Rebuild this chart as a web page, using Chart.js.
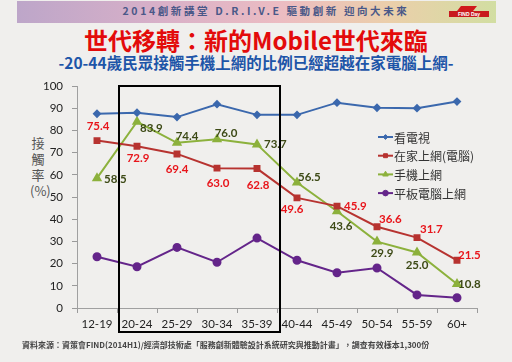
<!DOCTYPE html>
<html><head><meta charset="utf-8">
<script src="https://cdn.jsdelivr.net/npm/chart.js@4/dist/chart.umd.min.js"></script>
<style>
html,body{margin:0;padding:0;background:#f0efed;width:512px;height:362px;overflow:hidden;font-family:"Noto Sans CJK TC","Noto Sans",sans-serif;}
#wrap{position:relative;width:512px;height:362px;}
#banner{position:absolute;left:17px;top:1px;width:479px;height:22px;background:linear-gradient(90deg,#bda6c9 0%,#d8b0c8 30%,#ecbcc2 55%,#ebcfaa 78%,#d2dea2 100%);}
#bannerText{position:absolute;left:0;width:512px;top:4px;text-align:center;font-size:10.5px;font-weight:bold;color:#4a5888;letter-spacing:2.6px;line-height:14px;white-space:nowrap;padding-left:20px;box-sizing:border-box;}
#logo{position:absolute;left:447px;top:6px;width:44px;height:11px;}
#title{position:absolute;left:0;width:512px;top:25px;text-align:center;font-size:24px;font-weight:bold;color:#e30b0b;line-height:30px;white-space:nowrap;}
#sub{position:absolute;left:0;width:512px;top:52px;text-align:center;font-size:15.5px;font-weight:bold;color:#1d55a8;line-height:20px;white-space:nowrap;}
#ytitle{position:absolute;left:30px;top:135px;width:16px;text-align:center;font-size:13px;color:#555;line-height:16px;}
#foot{position:absolute;left:22px;top:339px;font-size:8px;color:#444;line-height:11px;white-space:nowrap;font-weight:bold;}
canvas{position:absolute;left:0;top:0;}
</style></head>
<body><div id="wrap">
<div id="banner"></div>
<div id="bannerText">2014創新講堂 D.R.I.V.E 驅動創新 迎向大未來</div>
<svg id="logo" viewBox="0 0 44 11"><polygon points="14,0 30,0 26,5 10,5" fill="#d0191c"/><rect x="2" y="5" width="40" height="6" fill="#c81a1e"/><text x="22" y="10" font-size="5" fill="#fff" text-anchor="middle" font-family="Liberation Sans" font-weight="bold">FIND Day</text></svg>
<div id="title">世代移轉：新的Mobile世代來臨</div>
<div id="sub">-20-44歲民眾接觸手機上網的比例已經超越在家電腦上網-</div>
<div id="ytitle">接<br>觸<br>率<br>(%)</div>
<canvas id="c" width="512" height="362"></canvas>
<div id="foot">資料來源：資策會FIND(2014H1)/經濟部技術處「服務創新體驗設計系統研究與推動計畫」，調查有效樣本1,300份</div>
</div>
<script>
const categories = ["12-19","20-24","25-29","30-34","35-39","40-44","45-49","50-54","55-59","60+"];
const seriesNames = ["看電視","在家上網(電腦)","手機上網","平板電腦上網"];
const tvValues = [87.5, 88.0, 86.0, 91.8, 87.0, 87.0, 92.5, 90.2, 90.0, 93.0];
const pcValues = [75.4, 72.9, 69.4, 63.0, 62.8, 49.6, 45.9, 36.6, 31.7, 21.5];
const mobileValues = [58.5, 83.9, 74.4, 76.0, 73.7, 56.5, 43.6, 29.9, 25.0, 10.8];
const tabletValues = [23.1, 18.6, 27.3, 20.6, 31.5, 21.5, 15.9, 18.0, 5.9, 4.6];
const yTicks = [0,10,20,30,40,50,60,70,80,90,100];

// label placement styles (dx, dy, align) for value labels
const pcLabelPos = [[1,-14,'center'],[1,12,'center'],[0,15,'center'],[1,15,'center'],[1,17,'center'],[-5,11,'center'],[7,0,'left'],[2,-7,'left'],[3,-8,'left'],[1,-5,'left']];
const mobileLabelPos = [[7,1,'left'],[3,7,'left'],[10,-7,'center'],[9,-6,'center'],[7,0,'left'],[1,-5,'left'],[4,15,'center'],[5,12,'center'],[0,13,'center'],[1,0,'left']];

const colors = {tv:'#3b68ad', pc:'#b73330', mobile:'#8cb13c', tablet:'#64258a'};

const labelPlugin = {
  id:'valueLabels',
  afterDatasetsDraw(chart){
    const ctx = chart.ctx;
    ctx.save();
    ctx.font = 'bold 11.5px Lato, "Liberation Sans", sans-serif';
    ctx.textBaseline = 'middle';
    const draw = (dsIndex, pos, color) => {
      const meta = chart.getDatasetMeta(dsIndex);
      const vals = chart.data.datasets[dsIndex].data;
      meta.data.forEach((pt, i) => {
        const p = pos[i];
        ctx.fillStyle = color;
        ctx.textAlign = p[2];
        ctx.fillText(vals[i].toFixed(1), pt.x + p[0], pt.y + p[1]);
      });
    };
    draw(1, pcLabelPos, '#e8151b');
    draw(2, mobileLabelPos, '#3d4a16');
    ctx.restore();
  }
};

const boxPlugin = {
  id:'highlightBox',
  afterDraw(chart){
    const x = chart.scales.x, y = chart.scales.y, ctx = chart.ctx;
    const left = (x.getPixelForValue(0) + x.getPixelForValue(1))/2 + 2;
    const right = (x.getPixelForValue(4) + x.getPixelForValue(5))/2 + 3;
    const top = y.getPixelForValue(100);
    const bottom = 332;
    ctx.save();
    ctx.strokeStyle = '#000';
    ctx.lineWidth = 2;
    ctx.strokeRect(left, top, right-left, bottom-top);
    ctx.restore();
  }
};

const legendPlugin = {
  id:'innerLegend',
  afterDraw(chart){
    const ctx = chart.ctx;
    ctx.save();
    chart.data.datasets.forEach((ds, i) => {
      const yy = 137 + i*18.7;
      ctx.strokeStyle = ds.borderColor;
      ctx.fillStyle = ds.borderColor;
      ctx.lineWidth = 2;
      ctx.beginPath(); ctx.moveTo(378, yy); ctx.lineTo(393, yy); ctx.stroke();
      ctx.lineWidth = 1;
      Chart.helpers.drawPoint(ctx, {pointStyle: ds.pointStyle, radius: ds.pointRadius*0.8, borderWidth:1}, 385.5, yy);
      ctx.fillStyle = '#333';
      ctx.font = '12px "Noto Sans CJK TC", sans-serif';
      ctx.textAlign = 'left';
      ctx.textBaseline = 'middle';
      ctx.fillText(ds.label, 394, yy+1);
    });
    ctx.restore();
  }
};

function mk(label, data, color, style, r){
  return {label, data, borderColor:color, backgroundColor:color, pointBackgroundColor:color, pointBorderColor:color,
    pointStyle:style, pointRadius:r, borderWidth:2, tension:0, fill:false};
}

new Chart(document.getElementById('c'), {
  type:'line',
  data:{
    labels: categories,
    datasets:[
      mk(seriesNames[0], tvValues, colors.tv, 'rectRot', 3),
      mk(seriesNames[1], pcValues, colors.pc, 'rect', 3.5),
      mk(seriesNames[2], mobileValues, colors.mobile, 'triangle', 4),
      mk(seriesNames[3], tabletValues, colors.tablet, 'circle', 3.5)
    ]
  },
  options:{
    responsive:false,
    animation:false,
    devicePixelRatio:1,
    layout:{padding:{top:86,right:35,left:0,bottom:0}},
    plugins:{legend:{display:false}, tooltip:{enabled:false}, title:{display:false}},
    scales:{
      x:{
        offset:true,
        grid:{display:true, drawOnChartArea:false, drawTicks:true, tickLength:5, offset:true, color:'#9a9a9a'},
        border:{display:true, color:'#a0a0a0', width:1},
        ticks:{color:'#222', font:{family:'Lato, "Liberation Sans", sans-serif', size:11.5}, padding:4, maxRotation:0},
        afterFit(s){ s.height = 54; }
      },
      y:{
        min:0, max:100,
        afterBuildTicks(s){ s.ticks = yTicks.map(v=>({value:v})); },
        grid:{display:true, drawOnChartArea:false, drawTicks:true, tickLength:5, color:'#9a9a9a'},
        border:{display:true, color:'#a0a0a0', width:1},
        ticks:{color:'#222', font:{family:'Lato, "Liberation Sans", sans-serif', size:11.5}, padding:9},
        afterFit(s){ s.width = 77; }
      }
    }
  },
  plugins:[labelPlugin, boxPlugin, legendPlugin]
});
</script>
</body></html>
